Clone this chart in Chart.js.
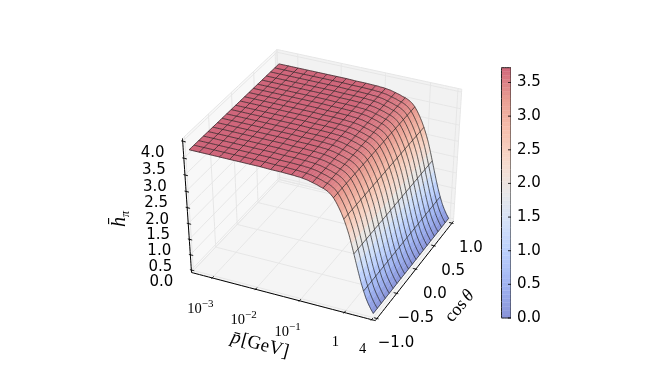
<!DOCTYPE html>
<html>
<head>
<meta charset="utf-8">
<style>
html, body { margin: 0; padding: 0; background: #fff; }
#wrap { width: 645px; height: 387px; }
</style>
<script src="https://cdn.jsdelivr.net/npm/chart.js@4"></script>
</head>
<body>
<div id="wrap"><canvas id="chart" width="645" height="387"></canvas></div>
<script>
// values: log10(p) rows, finer where the surface drops
const logPGrid = [-3.4, -3.178, -2.956, -2.733, -2.511, -2.289, -2.067, -1.844, -1.622, -1.4, -1.178,
    -1.122, -1.067, -1.011, -0.956, -0.9, -0.844, -0.789, -0.733, -0.678, -0.622, -0.567, -0.511, -0.456, -0.4,
    -0.344, -0.289, -0.233, -0.178, -0.122, -0.067, -0.011, 0.044, 0.1, 0.156, 0.211, 0.267, 0.322, 0.378, 0.433, 0.489, 0.544, 0.6];
const hByP = [3.72, 3.72, 3.72, 3.72, 3.72, 3.72, 3.72, 3.72, 3.71, 3.71, 3.70,
    3.70, 3.69, 3.69, 3.68, 3.67, 3.66, 3.64, 3.62, 3.60, 3.58, 3.55, 3.53, 3.50, 3.46,
    3.40, 3.32, 3.21, 3.08, 2.93, 2.76, 2.56, 2.34, 2.07, 1.78, 1.49, 1.20, 0.93, 0.69, 0.48, 0.31, 0.17, 0.05];
// rows of the table that carry a wire line
const wireRows = [0, 1, 2, 3, 4, 5, 6, 7, 8, 9, 10, 14, 18, 22, 26, 30, 34, 38, 42];
const cosGrid = [-1.0, -0.9, -0.8, -0.7, -0.6, -0.5, -0.4, -0.3, -0.2, -0.1, 0.0, 0.1, 0.2, 0.3, 0.4, 0.5, 0.6, 0.7, 0.8, 0.9, 1.0];

const pTicks = [-3, -2, -1, 0, 0.602];
const pTickLabels = ['10', '10', '10', '1', '4'];
const pTickExp = ['\u22123', '\u22122', '\u22121', '', ''];
const cosTicks = [-1.0, -0.5, 0.0, 0.5, 1.0];
const cosTickLabels = ['\u22121.0', '\u22120.5', '0.0', '0.5', '1.0'];
const hTicks = [0.0, 0.5, 1.0, 1.5, 2.0, 2.5, 3.0, 3.5, 4.0];
const hTickLabels = ['0.0', '0.5', '1.0', '1.5', '2.0', '2.5', '3.0', '3.5', '4.0'];
const barTicks = [0.0, 0.5, 1.0, 1.5, 2.0, 2.5, 3.0, 3.5];
const barSteps = [];
for (let i = 0; i < 64; i++) barSteps.push(i);

// coolwarm colour stops
const coolStops = [[59, 76, 192], [98, 130, 234], [141, 176, 254], [184, 208, 249], [221, 221, 221], [245, 196, 173], [244, 154, 123], [222, 96, 77], [180, 4, 38]];

const hMax = 3.72;
const surfAlpha = 0.6;

// view
const elev = 38 * Math.PI / 180;
const azim = -65 * Math.PI / 180;
const dist = 10;
const ext = 1 / 48;
const plotRight = 511;
const sx = 1952, sy = 1620, cx = 325, cy = 182;

const logPMin = -3.4, logPMax = 0.6, cosMin = -1, cosMax = 1, hMin = 0, hLim = 4;

const n = [Math.cos(azim) * Math.cos(elev), Math.sin(azim) * Math.cos(elev), Math.sin(elev)];
const u = [-Math.sin(azim), Math.cos(azim), 0];
const v = [-Math.cos(azim) * Math.sin(elev), -Math.sin(azim) * Math.sin(elev), Math.cos(elev)];

function dot(a, b) { return a[0] * b[0] + a[1] * b[1] + a[2] * b[2]; }

// unit box position -> point on the projection plane
function project(bx, by, bz) {
    const d = [bx - 0.5, by - 0.5, bz - 0.5];
    const w = dist - dot(d, n);
    return { x: dot(d, u) / w, y: dot(d, v) / w, depth: w };
}
function boxX(logP) { return (logP - logPMin) / (logPMax - logPMin); }
function boxY(c) { return (c - cosMin) / (cosMax - cosMin); }
function boxZ(h) { return (h - hMin) / (hLim - hMin); }

function coolwarm(t) {
    const f = Math.min(Math.max(t, 0), 1) * (coolStops.length - 1);
    const i = Math.min(Math.floor(f), coolStops.length - 2);
    const k = f - i;
    return coolStops[i].map((c, j) => Math.round(c + (coolStops[i + 1][j] - c) * k));
}
// colour with the surface's alpha, flattened on the near white behind it so cells join without seams
function surfColor(t) {
    const rgb = coolwarm(t).map(c => Math.round(c * surfAlpha + 250 * (1 - surfAlpha)));
    return `rgb(${rgb[0]},${rgb[1]},${rgb[2]})`;
}

const datasets = [];
function addLine(points, color, width, extra) {
    datasets.push(Object.assign({
        data: points,
        xAxisID: 'x',
        yAxisID: 'y',
        showLine: true,
        pointRadius: 0,
        borderColor: color,
        borderWidth: width,
        tension: 0.00001,
        fill: false
    }, extra || {}));
}

// panes
const lo = -ext, hi = 1 + ext;
function pane(corners, color) {
    const pts = corners.map(c => project(c[0], c[1], c[2]));
    addLine(pts.concat([pts[0]]), 'rgba(230,230,230,1)', 1, { polyColor: color });
}
pane([[lo, lo, lo], [lo, hi, lo], [lo, hi, hi], [lo, lo, hi]], 'rgba(242,242,242,0.5)');
pane([[lo, hi, lo], [hi, hi, lo], [hi, hi, hi], [lo, hi, hi]], 'rgba(230,230,230,0.5)');
pane([[lo, lo, lo], [hi, lo, lo], [hi, hi, lo], [lo, hi, lo]], 'rgba(236,236,236,0.5)');

// grid lines on the panes
const gridColor = 'rgba(230,230,230,1)';
pTicks.forEach(t => {
    const b = boxX(t);
    addLine([project(b, lo, lo), project(b, hi, lo), project(b, hi, hi)], gridColor, 1);
});
cosTicks.forEach(t => {
    const b = boxY(t);
    addLine([project(hi, b, lo), project(lo, b, lo), project(lo, b, hi)], gridColor, 1);
});
hTicks.forEach(t => {
    const b = boxZ(t);
    addLine([project(lo, lo, b), project(lo, hi, b), project(hi, hi, b)], gridColor, 1);
});

// surface cells, far ones first
const cells = [];
for (let i = 0; i < logPGrid.length - 1; i++) {
    for (let j = 0; j < cosGrid.length - 1; j++) {
        const corners = [
            [boxX(logPGrid[i]), boxY(cosGrid[j]), boxZ(hByP[i])],
            [boxX(logPGrid[i + 1]), boxY(cosGrid[j]), boxZ(hByP[i + 1])],
            [boxX(logPGrid[i + 1]), boxY(cosGrid[j + 1]), boxZ(hByP[i + 1])],
            [boxX(logPGrid[i]), boxY(cosGrid[j + 1]), boxZ(hByP[i])]
        ];
        const pts = corners.map(c => project(c[0], c[1], c[2]));
        const depth = pts.reduce((s, p) => s + p.depth, 0) / 4;
        const hMean = (hByP[i] + hByP[i + 1]) / 2;
        cells.push({ pts, depth, hMean });
    }
}
cells.sort((a, b) => b.depth - a.depth);
cells.forEach(c => {
    const color = surfColor(c.hMean / hMax);
    addLine(c.pts.concat([c.pts[0]]), color, 0.4, { polyColor: color });
});

// wire lines over the surface
const wireColor = 'rgba(25,25,25,0.72)';
const wireWidth = 0.95;
cosGrid.forEach(c => {
    addLine(logPGrid.map((lp, i) => project(boxX(lp), boxY(c), boxZ(hByP[i]))), wireColor, wireWidth);
});
wireRows.forEach(i => {
    addLine(cosGrid.map(c => project(boxX(logPGrid[i]), boxY(c), boxZ(hByP[i]))), wireColor, wireWidth);
});

// axis lines and ticks
const axisColor = '#000';
addLine([project(lo, lo, lo), project(hi, lo, lo)], axisColor, 1);
addLine([project(hi, lo, lo), project(hi, hi, lo)], axisColor, 1);
addLine([project(lo, lo, lo), project(lo, lo, hi)], axisColor, 1);
const tickIn = 0.2 / 12, tickOut = 0.1 / 12;
pTicks.forEach(t => {
    const b = boxX(t);
    addLine([project(b, lo - tickOut, lo), project(b, lo + tickIn, lo)], axisColor, 1);
});
cosTicks.forEach(t => {
    const b = boxY(t);
    addLine([project(hi + tickOut, b, lo), project(hi - tickIn, b, lo)], axisColor, 1);
});
hTicks.forEach(t => {
    const b = boxZ(t);
    addLine([project(lo - tickOut, lo, b), project(lo + tickIn, lo, b)], axisColor, 1);
});

// colorbar: steps on the bar's own value axis, x position in chart units
const barX0 = (501.5 - cx) / sx, barX1 = (511 - cx) / sx;
barSteps.forEach(s => {
    const a = s / barSteps.length * hMax, b = (s + 1) / barSteps.length * hMax;
    const color = surfColor((s + 0.5) / barSteps.length);
    datasets.push({
        data: [{ x: barX0, y: a }, { x: barX1, y: a }, { x: barX1, y: b }, { x: barX0, y: b }],
        xAxisID: 'x', yAxisID: 'yBar', showLine: true, pointRadius: 0, tension: 0.00001,
        borderColor: color, borderWidth: 0.4, fill: false, polyColor: color
    });
});
datasets.push({
    data: [{ x: barX0, y: 0 }, { x: barX1, y: 0 }, { x: barX1, y: hMax }, { x: barX0, y: hMax }, { x: barX0, y: 0 }],
    xAxisID: 'x', yAxisID: 'yBar', showLine: true, pointRadius: 0, tension: 0.00001,
    borderColor: '#222', borderWidth: 1, fill: false
});
barTicks.forEach(t => {
    datasets.push({
        data: [{ x: barX1 - 3 / sx, y: t }, { x: barX1, y: t }],
        xAxisID: 'x', yAxisID: 'yBar', showLine: true, pointRadius: 0, tension: 0.00001,
        borderColor: '#000', borderWidth: 1, fill: false
    });
});
datasets.forEach((d, i) => { d.order = -i; });

// fills a dataset's points as a closed shape before its outline is stroked
const polyFill = {
    id: 'polyFill',
    beforeDatasetDraw(chart, args) {
        const color = chart.data.datasets[args.index].polyColor;
        if (!color) return;
        const pts = args.meta.data;
        const ctx = chart.ctx;
        ctx.save();
        ctx.beginPath();
        pts.forEach((p, i) => { if (i === 0) ctx.moveTo(p.x, p.y); else ctx.lineTo(p.x, p.y); });
        ctx.closePath();
        ctx.fillStyle = color;
        ctx.fill();
        ctx.restore();
    }
};

const sansFont = '15px "DejaVu Sans"';
const tenFont = '14.5px "Liberation Serif"';
const expFont = '11px "Liberation Serif"';

// draws runs of text along a rotated baseline
function runs(chart, px, py, angle, parts) {
    const ctx = chart.ctx;
    ctx.save();
    ctx.translate(px, py);
    ctx.rotate(angle * Math.PI / 180);
    ctx.textAlign = 'left';
    ctx.textBaseline = 'alphabetic';
    let at = 0;
    parts.forEach(r => {
        ctx.font = r.font;
        ctx.fillText(r.text, at, r.dy || 0);
        at += ctx.measureText(r.text).width + (r.gap || 0);
    });
    ctx.restore();
}

const axisText = {
    id: 'axisText',
    afterDatasetsDraw(chart) {
        const ctx = chart.ctx;
        const xs = chart.scales.x, ys = chart.scales.y;
        ctx.save();
        ctx.fillStyle = '#000';
        ctx.textAlign = 'center';
        ctx.textBaseline = 'middle';
        ctx.font = sansFont;
        hTicks.forEach((t, i) => {
            const p = project(lo, lo, boxZ(t));
            ctx.fillText(hTickLabels[i], xs.getPixelForValue(p.x) - 30, ys.getPixelForValue(p.y) + 12);
        });
        cosTicks.forEach((t, i) => {
            const p = project(hi, boxY(t), lo);
            ctx.fillText(cosTickLabels[i], xs.getPixelForValue(p.x) + 19, ys.getPixelForValue(p.y) + 25);
        });
        pTicks.forEach((t, i) => {
            const p = project(boxX(t), lo, lo);
            const px = xs.getPixelForValue(p.x), py = ys.getPixelForValue(p.y);
            if (pTickExp[i]) {
                runs(chart, px - 25, py + 35, 0, [
                    { text: pTickLabels[i], font: tenFont },
                    { text: pTickExp[i], font: expFont, dy: -6 }
                ]);
            } else {
                ctx.font = tenFont;
                ctx.fillText(pTickLabels[i], px - 9, py + 30);
            }
        });
        ctx.restore();
        runs(chart, 230, 342, 15, [
            { text: 'p\u0304', font: 'italic 19px "Liberation Serif"', gap: 1 },
            { text: '[GeV]', font: '19px "Liberation Serif"' }
        ]);
        runs(chart, 452, 323, -50, [
            { text: 'cos', font: '18px "Liberation Serif"', gap: 3 },
            { text: '\u03b8', font: 'italic 18px "Liberation Serif"' }
        ]);
        runs(chart, 125, 227, -90, [
            { text: 'h\u0304', font: 'italic 20px "Liberation Serif"' },
            { text: '\u03c0', font: 'italic 12px "Liberation Serif"', dy: 4 }
        ]);
    }
};

new Chart(document.getElementById('chart'), {
    type: 'scatter',
    data: { datasets },
    options: {
        responsive: false,
        animation: false,
        events: [],
        layout: { padding: 0 },
        plugins: { legend: { display: false }, tooltip: { enabled: false } },
        scales: {
            x: {
                type: 'linear', display: false,
                min: (0 - cx) / sx, max: (plotRight - cx) / sx
            },
            y: {
                type: 'linear', display: false,
                min: (cy - 387) / sy, max: cy / sy
            },
            yBar: {
                type: 'linear', position: 'right',
                min: -(387 - 318) * hMax / 250.3,
                max: hMax + 67.7 * hMax / 250.3,
                border: { display: false },
                grid: { display: false, drawTicks: false },
                afterBuildTicks(scale) { scale.ticks = barTicks.map(value => ({ value })); },
                afterFit(scale) {
                    scale.width = 645 - plotRight;
                    scale.paddingTop = 0;
                    scale.paddingBottom = 0;
                },
                ticks: {
                    padding: 6,
                    color: '#000',
                    autoSkip: false,
                    font: { family: 'DejaVu Sans', size: 15 },
                    callback: value => value.toFixed(1)
                }
            }
        }
    },
    plugins: [polyFill, axisText]
});
</script>
</body>
</html>
